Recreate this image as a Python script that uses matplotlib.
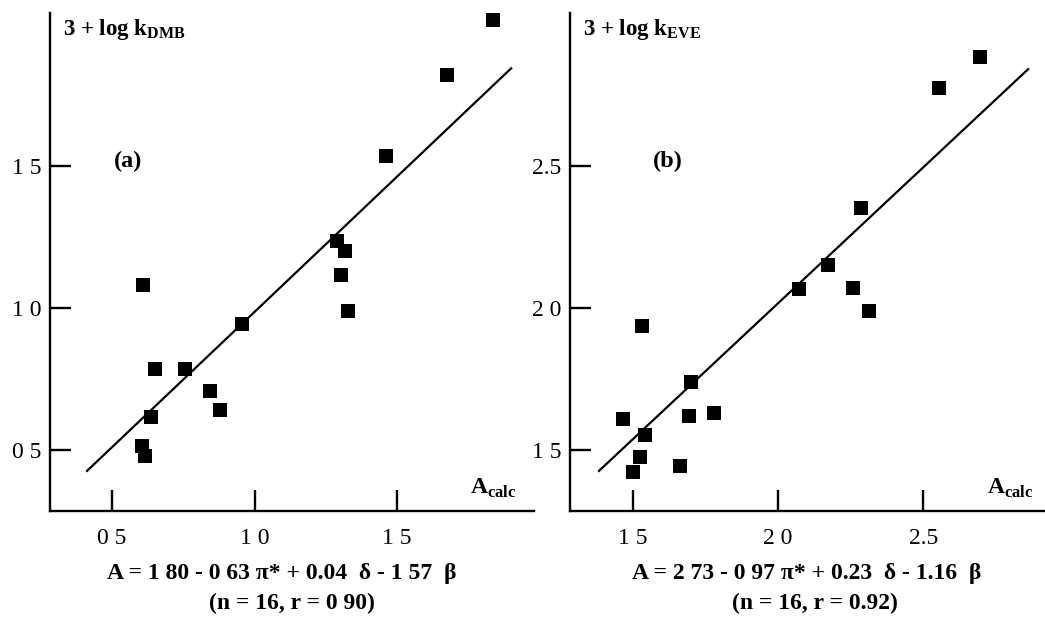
import matplotlib
matplotlib.use('Agg')
import matplotlib.pyplot as plt
import numpy as np

plt.rcParams['font.family'] = ['Liberation Serif', 'DejaVu Serif']
plt.rcParams['mathtext.fontset'] = 'custom'
plt.rcParams['mathtext.rm'] = 'Liberation Serif'
plt.rcParams['mathtext.bf'] = 'Liberation Serif:bold'

# panel (a): 3 + log k_DMB vs A_calc
a_x = [1.837, 1.675, 1.461, 1.289, 1.317, 1.303, 1.328, 0.609,
       0.957, 0.652, 0.757, 0.842, 0.880, 0.638, 0.604, 0.614]
a_y = [2.014, 1.820, 1.535, 1.236, 1.201, 1.116, 0.989, 1.081,
       0.944, 0.785, 0.785, 0.708, 0.641, 0.616, 0.514, 0.479]
a_line_x = [0.412, 1.900]
a_line_y = [0.426, 1.845]
a_ticks = [0.5, 1.0, 1.5]
a_ticklabels = ['0 5', '1 0', '1 5']

# panel (b): 3 + log k_EVE vs A_calc
b_x = [2.697, 2.555, 2.286, 2.172, 2.072, 2.259, 2.314, 1.531,
       1.700, 1.466, 1.693, 1.779, 1.541, 1.524, 1.500, 1.662]
b_y = [2.884, 2.775, 2.352, 2.151, 2.067, 2.070, 1.989, 1.937,
       1.739, 1.609, 1.620, 1.630, 1.553, 1.475, 1.423, 1.444]
b_line_x = [1.383, 2.862]
b_line_y = [1.426, 2.842]
b_ticks = [1.5, 2.0, 2.5]
b_ticklabels = ['1 5', '2 0', '2.5']

panels = [
    dict(x=a_x, y=a_y, lx=a_line_x, ly=a_line_y, ticks=a_ticks, labels=a_ticklabels,
         xlim=(0.282, 1.98), ylim=(0.285, 2.04), rect=[50/1045, 0.172, 484/1045, 0.807],
         ylabel=r'3 + log k$_\mathbf{DMB}$', tag='(a)', tag_x=0.131, calc_x=0.868,
         eq=u'A = 1 80 - 0 63 \u03c0* + 0.04  \u03b4 - 1 57  \u03b2',
         stats='(n = 16, r = 0 90)', eq_x=0.270, st_x=0.279),
    dict(x=b_x, y=b_y, lx=b_line_x, ly=b_line_y, ticks=b_ticks, labels=b_ticklabels,
         xlim=(1.283, 2.92), ylim=(1.285, 3.04), rect=[570/1045, 0.172, 475/1045, 0.807],
         ylabel=r'3 + log k$_\mathbf{EVE}$', tag='(b)', tag_x=0.175, calc_x=0.878,
         eq=u'A = 2 73 - 0 97 \u03c0* + 0.23  \u03b4 - 1.16  \u03b2',
         stats='(n = 16, r = 0.92)', eq_x=0.772, st_x=0.780),
]

fig = plt.figure(figsize=(10.45, 6.17), dpi=100)

for p in panels:
    ax = fig.add_axes(p['rect'])
    ax.plot(p['x'], p['y'], 's', color='black', markersize=9.8, markeredgewidth=0)
    ax.plot(p['lx'], p['ly'], color='black', linewidth=1.6)
    ax.set_xlim(*p['xlim'])
    ax.set_ylim(*p['ylim'])
    ax.set_xticks(p['ticks'], p['labels'])
    ax.set_yticks(p['ticks'], p['labels'])
    ax.tick_params(axis='both', direction='in', length=15, width=1.7, labelsize=17)
    ax.tick_params(axis='x', pad=12)
    ax.tick_params(axis='y', pad=6)
    for side in ['top', 'right']:
        ax.spines[side].set_visible(False)
    for side in ['left', 'bottom']:
        ax.spines[side].set_linewidth(1.7)
    ax.patch.set_visible(False)

    ax.text(0.027, 0.966, p['ylabel'], transform=ax.transAxes, fontsize=16.5,
            fontweight='bold', ha='left', va='center')
    ax.text(p['tag_x'], 0.701, p['tag'], transform=ax.transAxes, fontsize=17.5,
            fontweight='bold', ha='left', va='center')
    ax.text(p['calc_x'], 0.046, r'A$_\mathbf{calc}$', transform=ax.transAxes, fontsize=17,
            fontweight='bold', ha='left', va='center')

    fig.text(p['eq_x'], 0.0713, p['eq'], fontsize=17, fontweight='bold',
             ha='center', va='center')
    fig.text(p['st_x'], 0.0227, p['stats'], fontsize=17, fontweight='bold',
             ha='center', va='center')

plt.savefig('out.png', dpi=100)
